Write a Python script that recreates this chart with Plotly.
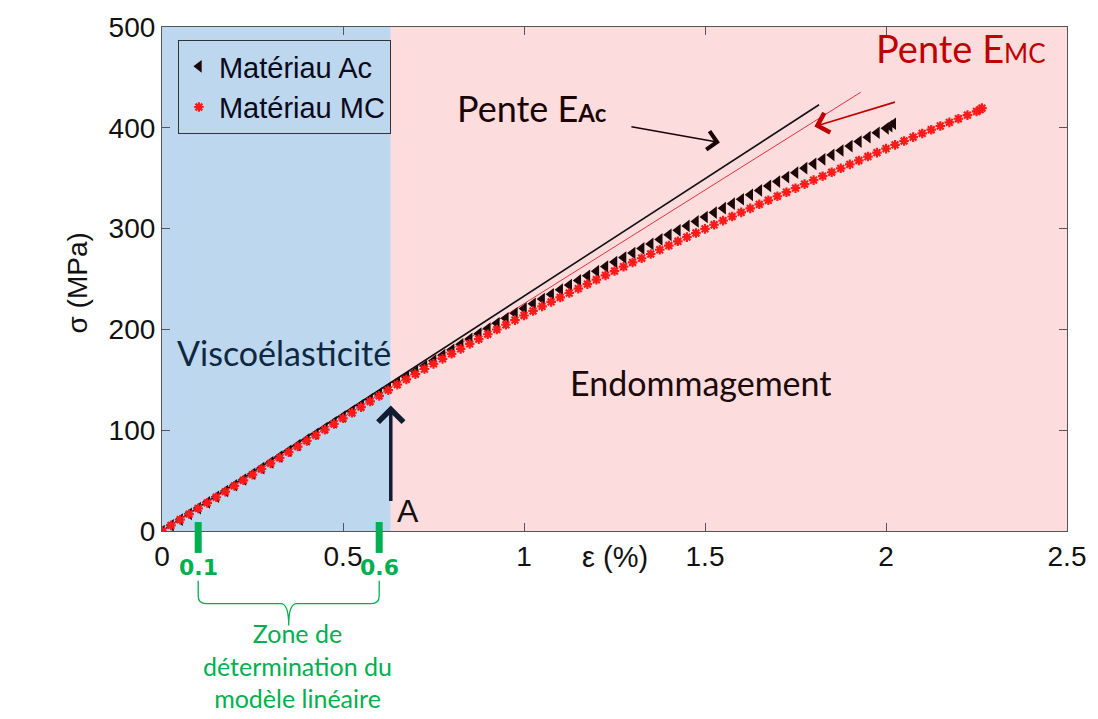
import plotly.graph_objects as go

# ---- data: strain (%) and stress (MPa) ----
strain_ac = [0.0, 0.025, 0.05, 0.075, 0.1, 0.125, 0.15, 0.175, 0.2, 0.225, 0.25, 0.275, 0.3,
             0.325, 0.35, 0.375, 0.4, 0.425, 0.45, 0.475, 0.5, 0.525, 0.55, 0.575, 0.6, 0.625,
             0.65, 0.675, 0.7, 0.725, 0.75, 0.775, 0.8, 0.825, 0.85, 0.875, 0.9, 0.925, 0.95,
             0.975, 1.0, 1.025, 1.05, 1.075, 1.1, 1.125, 1.15, 1.175, 1.2, 1.225, 1.25, 1.275,
             1.3, 1.325, 1.35, 1.375, 1.4, 1.425, 1.45, 1.475, 1.5, 1.525, 1.55, 1.575, 1.6,
             1.625, 1.65, 1.675, 1.7, 1.725, 1.75, 1.775, 1.8, 1.825, 1.85, 1.875, 1.9, 1.925,
             1.95, 1.975, 2.0, 2.01, 2.02]
stress_ac = [0.0, 5.7, 11.3, 17.0, 22.7, 28.4, 34.0, 39.7, 45.4, 51.1, 56.8, 62.4, 68.1,
             73.8, 79.5, 85.1, 90.8, 96.5, 102.2, 107.8, 113.5, 119.2, 124.9, 130.5, 136.2, 141.9,
             147.3, 152.8, 158.2, 163.6, 169.0, 174.4, 179.8, 185.2, 190.6, 195.8, 200.9, 206.0, 211.0,
             215.9, 220.7, 225.4, 230.1, 234.8, 239.4, 244.0, 248.6, 253.2, 257.8, 262.3, 266.8, 271.3,
             275.8, 280.3, 284.8, 289.3, 293.8, 298.3, 302.7, 307.1, 311.5, 315.9, 320.3, 324.7, 329.1,
             333.5, 337.9, 342.3, 346.7, 351.1, 355.5, 359.9, 364.3, 368.7, 373.1, 377.5, 381.9, 386.3,
             390.7, 395.1, 399.5, 401.6, 404.0]

strain_mc = [0.0, 0.025, 0.05, 0.075, 0.1, 0.125, 0.15, 0.175, 0.2, 0.225, 0.25, 0.275, 0.3,
             0.325, 0.35, 0.375, 0.4, 0.425, 0.45, 0.475, 0.5, 0.525, 0.55, 0.575, 0.6, 0.625,
             0.65, 0.675, 0.7, 0.725, 0.75, 0.775, 0.8, 0.825, 0.85, 0.875, 0.9, 0.925, 0.95,
             0.975, 1.0, 1.025, 1.05, 1.075, 1.1, 1.125, 1.15, 1.175, 1.2, 1.225, 1.25, 1.275,
             1.3, 1.325, 1.35, 1.375, 1.4, 1.425, 1.45, 1.475, 1.5, 1.525, 1.55, 1.575, 1.6,
             1.625, 1.65, 1.675, 1.7, 1.725, 1.75, 1.775, 1.8, 1.825, 1.85, 1.875, 1.9, 1.925,
             1.95, 1.975, 2.0, 2.025, 2.05, 2.075, 2.1, 2.125, 2.15, 2.175, 2.2, 2.225, 2.25,
             2.26, 2.265]
stress_mc = [0.0, 5.6, 11.2, 16.8, 22.4, 27.9, 33.5, 39.1, 44.7, 50.3, 55.9, 61.5, 67.1,
             72.6, 78.2, 83.8, 89.4, 95.0, 100.6, 106.2, 111.8, 117.3, 122.9, 128.5, 134.1, 139.7,
             145.2, 150.4, 155.6, 160.7, 165.8, 170.8, 175.8, 180.7, 185.6, 190.4, 195.2, 199.9, 204.6,
             209.2, 213.8, 218.3, 222.8, 227.3, 231.7, 236.1, 240.5, 244.9, 249.3, 253.6, 257.9, 262.2,
             266.4, 270.6, 274.8, 279.0, 283.2, 287.4, 291.5, 295.6, 299.7, 303.8, 307.9, 312.0, 316.1,
             320.1, 324.1, 328.1, 332.1, 336.1, 340.1, 344.1, 348.1, 352.0, 355.9, 359.8, 363.7, 367.6,
             371.5, 375.4, 379.3, 383.1, 386.9, 390.7, 394.4, 398.1, 401.8, 405.4, 409.0, 412.6, 416.2,
             418.0, 419.5]

# linear-model slopes (MPa per % strain) and the strain where each slope line stops
slope_ac = 233.0
slope_mc = 225.5
slope_end = [1.815, 1.93]

# zone limits (strain, %)
zone_bounds = [0.1, 0.6]
damage_onset = 0.632

x_ticks = [0, 0.5, 1, 1.5, 2, 2.5]
x_ticklabels = ["0", "0.5", "1", "1.5", "2", "2.5"]
y_ticks = [0, 100, 200, 300, 400, 500]
y_ticklabels = ["0", "100", "200", "300", "400", "500"]

# ---- page geometry ----
W, H = 1098, 719
PL, PR, PT, PB = 162, 1072, 25, 531   # plot-area edges in page pixels


def xp(px):
    return (px - PL) / (PR - PL)


def yp(py):
    return (PB - py) / (PB - PT)


ARIAL = "Liberation Sans, Arial, sans-serif"
HUMAN = "Lato, Open Sans, sans-serif"
GREEN = "#00b050"
DARK_RED = "#c00000"


def label(text, x, y, size, color, family=HUMAN, xanchor="center", **kw):
    """Free text placed in page pixels."""
    return dict(text=text, xref="paper", yref="paper", x=xp(x), y=yp(y),
                xanchor=xanchor, yanchor="middle", showarrow=False,
                font=dict(family=family, size=size, color=color), **kw)


fig = go.Figure()

# slope lines
fig.add_trace(go.Scatter(x=[0, slope_end[0]], y=[0, slope_ac * slope_end[0]], mode="lines",
                         line=dict(color="#111111", width=1.6), showlegend=False, hoverinfo="skip"))
fig.add_trace(go.Scatter(x=[0, slope_end[1]], y=[0, slope_mc * slope_end[1]], mode="lines",
                         line=dict(color="#e8303a", width=1), showlegend=False, hoverinfo="skip"))

# measured curves
fig.add_trace(go.Scatter(x=strain_ac, y=stress_ac, mode="markers", name="Matériau Ac",
                         marker=dict(symbol="triangle-left", size=11, color="#1c0808")))
fig.add_trace(go.Scatter(x=strain_mc, y=stress_mc, mode="markers", name="Matériau MC",
                         marker=dict(symbol="asterisk-open", size=8,
                                     line=dict(color="#ff1a1a", width=2.2), color="#ff1a1a")))

shapes = [
    # viscoelastic zone (blue) and damage zone (pink)
    dict(type="rect", xref="x", yref="y", x0=0, x1=damage_onset, y0=0, y1=500,
         fillcolor="#bdd7ee", line=dict(width=0), layer="below"),
    dict(type="rect", xref="x", yref="y", x0=damage_onset, x1=2.5, y0=0, y1=500,
         fillcolor="#fddcdd", line=dict(width=0), layer="below"),
]

# green markers for the fitting window
for zb in zone_bounds:
    shapes.append(dict(type="line", xref="x", yref="paper", x0=zb, x1=zb,
                       y0=yp(522), y1=yp(553), line=dict(color=GREEN, width=7)))

# curly brace under the fitting window
bx0, bx1 = zone_bounds
bm = (bx0 + bx1) / 2
dx = 8 / 364
yt, ym, ytip, yr = yp(581), yp(604), yp(626), yp(596)
brace = (f"M {bx0},{yt} L {bx0},{yr} Q {bx0},{ym} {bx0 + dx},{ym} "
         f"L {bm - dx},{ym} Q {bm},{ym} {bm},{ytip} Q {bm},{ym} {bm + dx},{ym} "
         f"L {bx1 - dx},{ym} Q {bx1},{ym} {bx1},{yr} L {bx1},{yt}")
shapes.append(dict(type="path", xref="x", yref="paper", path=brace,
                   line=dict(color=GREEN, width=1.3)))

annotations = [
    # axis titles
    label("σ (MPa)", 78, 282, 28, "#111", family=ARIAL, textangle=-90),
    label("ε (%)", 617, 557, 29, "#111", family=ARIAL),
    # zone names
    label("Viscoélasticité", 285, 352, 34, "#0e2841"),
    label("Endommagement", 703, 382, 34, "#1a0a0a"),
    # slope labels
    label("Pente E<span style='font-size:24px'><b>Ac</b></span>", 457, 106, 36, "#1a0505",
          xanchor="left"),
    label("Pente E<span style='font-size:26px'>MC</span>", 878, 46, 38, DARK_RED,
          xanchor="left"),
    # arrows pointing at the slope lines
    dict(text="", xref="x", yref="y", x=(723 - PL) / 364, y=(PB - 141) / 1.012,
         ax=-90, ay=-16, showarrow=True, arrowhead=4, arrowsize=2.4, arrowwidth=1.5,
         arrowcolor="#1a0505"),
    dict(text="", xref="x", yref="y", x=(818 - PL) / 364, y=(PB - 125) / 1.012,
         ax=82, ay=-25, showarrow=True, arrowhead=4, arrowsize=2.2, arrowwidth=1.8,
         arrowcolor=DARK_RED),
    # damage onset point A
    dict(text="", xref="x", yref="y", x=damage_onset, y=124.5, ax=0, ay=97,
         showarrow=True, arrowhead=4, arrowsize=1.4, arrowwidth=3.5, arrowcolor="#101c30"),
    label("A", 409, 511, 32, "#111", family=ARIAL),
    # fitting window caption
    label("Zone de<br>détermination du<br>modèle linéaire", 298, 666, 25, GREEN, align="center"),
]
for zb in zone_bounds:
    annotations.append(dict(text=f"<b>{zb:g}</b>", xref="x", yref="paper", x=zb, y=yp(568),
                            xanchor="center", yanchor="middle", showarrow=False,
                            font=dict(family="DejaVu Sans, sans-serif", size=22, color=GREEN)))

axis_common = dict(showgrid=False, zeroline=False, showline=True, linecolor="#555555",
                   linewidth=1.2, mirror="ticks", ticks="inside", ticklen=8, tickwidth=1,
                   tickcolor="#555555", tickfont=dict(family=ARIAL, size=28, color="#111"))

fig.update_layout(
    width=W, height=H, autosize=False,
    margin=dict(l=PL, r=W - PR, t=PT, b=H - PB, pad=0),
    paper_bgcolor="white", plot_bgcolor="white",
    xaxis=dict(range=[0, 2.5], tickvals=x_ticks, ticktext=x_ticklabels, **axis_common),
    yaxis=dict(range=[0, 500], tickvals=y_ticks, ticktext=y_ticklabels, **axis_common),
    shapes=shapes,
    annotations=annotations,
    showlegend=True,
    legend=dict(x=xp(178), y=yp(38), xanchor="left", yanchor="top",
                bgcolor="rgba(0,0,0,0)", bordercolor="#333333", borderwidth=1,
                font=dict(family=ARIAL, size=29, color="#0a0a1a"), tracegroupgap=0),
)

fig.write_html("out.html")
